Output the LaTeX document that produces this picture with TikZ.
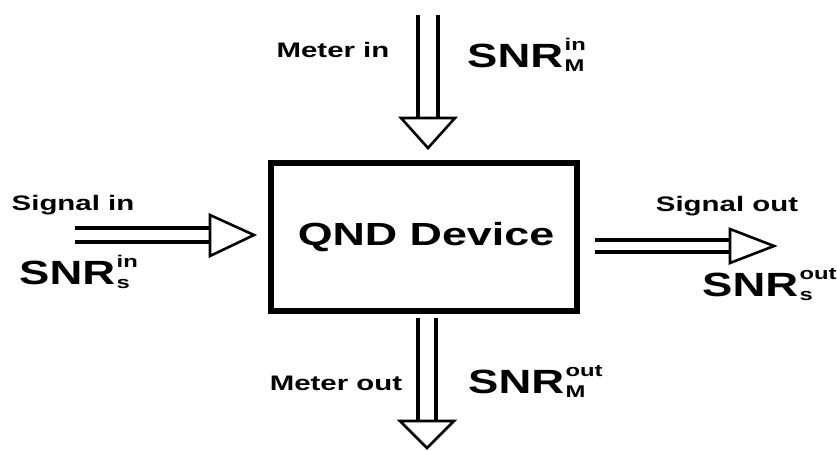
\documentclass[tikz,border=0pt]{standalone}
\usepackage{fontspec}
\usepackage{graphicx}
\setmainfont{Liberation Sans}
\newcommand\wide[1]{\scalebox{1.4}[1]{#1}}
\newcommand\snrlab[2]{\bfseries\scalebox{1.42}[1.05]{\fontsize{32}{32}\selectfont SNR}\kern1.5pt\makebox[0pt][l]{\raisebox{-4pt}{\wide{\fontsize{17}{17}\selectfont #2}}}\raisebox{16.5pt}{\wide{\fontsize{17}{17}\selectfont #1}}}
\tikzset{
  lab/.style={inner sep=0pt, font=\fontsize{21}{21}\selectfont\bfseries},
  big/.style={inner sep=0pt},
  shaft/.style={line width=3.2pt},
  head/.style={line width=2.6pt, fill=white, line join=miter},
  devbox/.style={draw, line width=5.5pt}
}
\begin{document}
\begin{tikzpicture}[x=1pt,y=-1pt]
\useasboundingbox (0,0) rectangle (837,450);
% device box
\draw[devbox] (271,163) rectangle (577,311);
\node[big] (qnd) at (426,237) {\wide{\fontsize{32}{32}\selectfont\bfseries QND Device}};
% top arrow (meter in)
\draw[shaft] (418,15) -- (418,120); \draw[shaft] (438,15) -- (438,120);
\draw[head] (401,118) -- (455,118) -- (428,148) -- cycle;
% bottom arrow (meter out)
\draw[shaft] (418,318) -- (418,423); \draw[shaft] (436,318) -- (436,423);
\draw[head] (400,421) -- (454,421) -- (427,448) -- cycle;
% left arrow (signal in)
\draw[shaft] (75,228) -- (213,228); \draw[shaft] (75,242) -- (213,242);
\draw[head] (210,215) -- (210,256) -- (254,235) -- cycle;
% right arrow (signal out)
\draw[shaft] (595,240) -- (733,240); \draw[shaft] (595,252) -- (733,252);
\draw[head] (730,229) -- (730,263) -- (774,246) -- cycle;
% labels
\node[lab] (lmi) at (333,50) {\wide{Meter in}};
\node[lab] (lmo) at (336,383) {\wide{Meter out}};
\node[lab] (lsi) at (73,205) {\wide{Signal in}};
\node[lab] (lso) at (727,206) {\wide{Signal out}};
\node[big,anchor=base west] (smi) at (467,67) {\snrlab{in}{M}};
\node[big,anchor=base west] (smo) at (468,393) {\snrlab{out}{M}};
\node[big,anchor=base west] (ssi) at (19,284) {\snrlab{in}{s}};
\node[big,anchor=base west] (sso) at (702,296) {\snrlab{out}{s}};
\end{tikzpicture}
\end{document}
